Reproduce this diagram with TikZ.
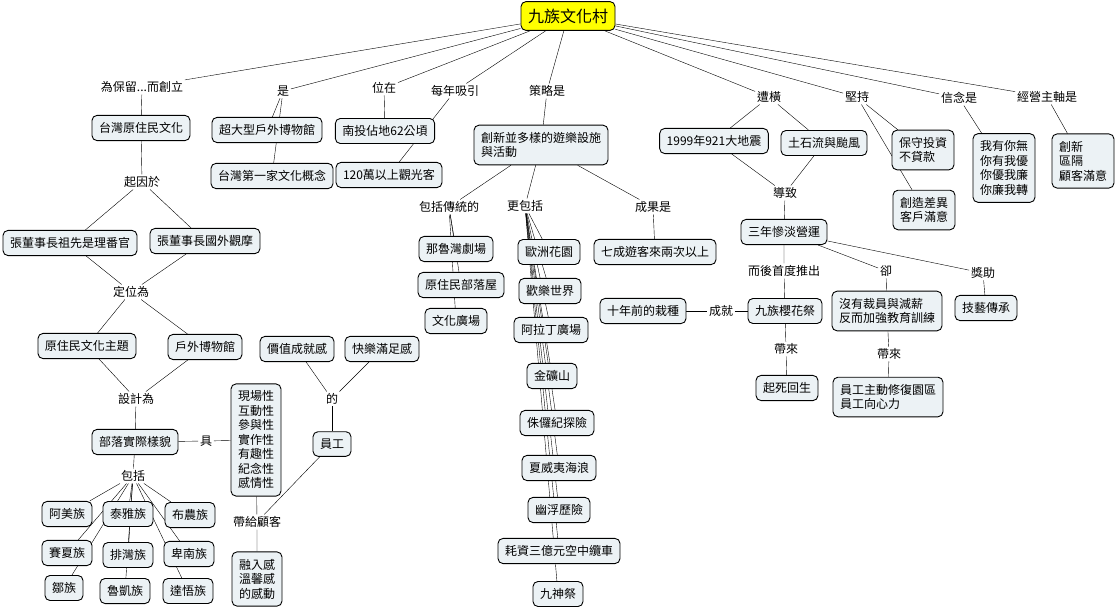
\documentclass[tikz,border=0pt]{standalone}
\usepackage{fontspec}
\setmainfont{Noto Sans CJK TC}
\usepackage{tikz}
\usetikzlibrary{backgrounds}

\definecolor{boxfill}{RGB}{236,242,245}
\definecolor{rootfill}{RGB}{255,255,0}

\tikzset{
  concept/.style={draw, line width=0.9pt, rounded corners=5pt, fill=boxfill,
    inner xsep=7pt, inner ysep=7pt, align=left,
    font=\fontsize{12}{14.5}\selectfont},
  phrase/.style={inner sep=1.5pt, font=\fontsize{12}{14.5}\selectfont},
  topic/.style={concept, fill=rootfill, font=\fontsize{16}{18}\selectfont}
}

\begin{document}
\begin{tikzpicture}[x=1pt, y=-1pt, line width=0.9pt]
  \useasboundingbox (0,0) rectangle (1117,610);
  % root
  \node (root) at (568,16) [topic] {九族文化村};
  % first row of phrases
  \node (preserve) at (142,87) [phrase] {為保留...而創立};
  \node (is) at (283,91) [phrase] {是};
  \node (located) at (384,88) [phrase] {位在};
  \node (attract) at (455,91) [phrase] {每年吸引};
  \node (strategy) at (547,91) [phrase] {策略是};
  \node (suffer) at (769,97) [phrase] {遭橫};
  \node (insist) at (857,97) [phrase] {堅持};
  \node (belief) at (959,98) [phrase] {信念是};
  \node (axis) at (1047,97) [phrase] {經營主軸是};
  % left branch
  \node (aborig) at (141,128) [concept] {台灣原住民文化};
  \node (cause) at (142,182) [phrase] {起因於};
  \node (ancestor) at (70,243) [concept] {張董事長祖先是理番官};
  \node (abroad) at (205,241) [concept] {張董事長國外觀摩};
  \node (position) at (131,292) [phrase] {定位為};
  \node (theme) at (87,346) [concept] {原住民文化主題};
  \node (outdoor) at (205,347) [concept] {戶外博物館};
  \node (design) at (136,399) [phrase] {設計為};
  \node (tribal) at (135,442) [concept] {部落實際樣貌};
  \node (have) at (206,441) [phrase] {具};
  \node (traits) at (256,440) [concept] {現場性\\互動性\\參與性\\實作性\\有趣性\\紀念性\\感情性};
  \node (bring) at (257,522) [phrase] {帶給顧客};
  \node (feel) at (257,579) [concept] {融入感\\溫馨感\\的感動};
  \node (value) at (297,349) [concept] {價值成就感};
  \node (joy) at (382,349) [concept] {快樂滿足感};
  \node (of) at (332,399) [phrase] {的};
  \node (staff) at (332,444) [concept] {員工};
  \node (incl) at (133,476) [phrase] {包括};
  \node (amis) at (67,514) [concept] {阿美族};
  \node (atayal) at (128,514) [concept] {泰雅族};
  \node (bunun) at (190,515) [concept] {布農族};
  \node (saisiyat) at (67,553) [concept] {賽夏族};
  \node (paiwan) at (128,555) [concept] {排灣族};
  \node (puyuma) at (189,554) [concept] {卑南族};
  \node (tsou) at (64,588) [concept] {鄒族};
  \node (rukai) at (125,591) [concept] {魯凱族};
  \node (tao) at (188,591) [concept] {達悟族};
  % museum and place
  \node (museum) at (267,130) [concept] {超大型戶外博物館};
  \node (first) at (272,176) [concept] {台灣第一家文化概念};
  \node (nantou) at (385,131) [concept] {南投佔地62公頃};
  \node (tourists) at (389,175) [concept] {120萬以上觀光客};
  % strategy branch
  \node (innov) at (541,145) [concept] {創新並多樣的遊樂設施\\與活動};
  \node (trad) at (449,207) [phrase] {包括傳統的};
  \node (more) at (525,206) [phrase] {更包括};
  \node (result) at (653,207) [phrase] {成果是};
  \node (naruwan) at (456,249) [concept] {那魯灣劇場};
  \node (house) at (461,285) [concept] {原住民部落屋};
  \node (plaza) at (456,321) [concept] {文化廣場};
  \node (garden) at (549,252) [concept] {歐洲花園};
  \node (fun) at (550,291) [concept] {歡樂世界};
  \node (aladdin) at (551,330) [concept] {阿拉丁廣場};
  \node (gold) at (552,376) [concept] {金礦山};
  \node (jurassic) at (557,423) [concept] {侏儸紀探險};
  \node (hawaii) at (559,468) [concept] {夏威夷海浪};
  \node (ufo) at (559,510) [concept] {幽浮歷險};
  \node (cable) at (559,551) [concept] {耗資三億元空中纜車};
  \node (ninegod) at (558,594) [concept] {九神祭};
  \node (repeat) at (655,252) [concept] {七成遊客來兩次以上};
  % disaster branch
  \node (quake) at (714,141) [concept] {1999年921大地震};
  \node (mud) at (824,143) [concept] {土石流與颱風};
  \node (lead) at (785,193) [phrase] {導致};
  \node (bleak) at (784,232) [concept] {三年慘淡營運};
  \node (then) at (784,271) [phrase] {而後首度推出};
  \node (yet) at (886,271) [phrase] {卻};
  \node (award) at (983,273) [phrase] {獎助};
  \node (craft) at (986,308) [concept] {技藝傳承};
  \node (sakura) at (785,311) [concept] {九族櫻花祭};
  \node (plant) at (643,311) [concept] {十年前的栽種};
  \node (achieve) at (721,311) [phrase] {成就};
  \node (nolay) at (887,311) [concept] {沒有裁員與減薪\\反而加強教育訓練};
  \node (bringa) at (786,349) [phrase] {帶來};
  \node (bringb) at (889,354) [phrase] {帶來};
  \node (revive) at (787,388) [concept] {起死回生};
  \node (repair) at (888,397) [concept] {員工主動修復園區\\員工向心力};
  % right branches
  \node (conserv) at (923,150) [concept] {保守投資\\不貸款};
  \node (differ) at (924,210) [concept] {創造差異\\客戶滿意};
  \node (share) at (1004,168) [concept] {我有你無\\你有我優\\你優我廉\\你廉我轉};
  \node (mainline) at (1083,161) [concept] {創新\\區隔\\顧客滿意};

  \begin{pgfonlayer}{background}
    % from the root
    \draw (root) -- (preserve);
    \draw (root) -- (is);
    \draw (root) -- (located);
    \draw (root) -- (attract);
    \draw (root) -- (strategy);
    \draw (root) -- (suffer);
    \draw (root) -- (insist);
    \draw (root) -- (belief);
    \draw (root) -- (axis);
    % left
    \draw (preserve) -- (aborig) -- (cause);
    \draw (cause) -- (ancestor) -- (position);
    \draw (cause) -- (abroad) -- (position);
    \draw (position) -- (theme) -- (design);
    \draw (position) -- (outdoor) -- (design);
    \draw (design) -- (tribal) -- (have) -- (traits) -- (bring) -- (feel);
    \draw (staff) -- (bring);
    \draw (value) -- (of);
    \draw (joy) -- (of);
    \draw (of) -- (staff);
    \draw (tribal) -- (incl);
    \draw (incl) -- (amis);
    \draw (incl) -- (atayal);
    \draw (incl) -- (bunun);
    \draw (incl) -- (saisiyat);
    \draw (incl) -- (paiwan);
    \draw (incl) -- (puyuma);
    \draw (incl) -- (tsou);
    \draw (incl) -- (rukai);
    \draw (incl) -- (tao);
    % museum and place
    \draw (is) -- (museum);
    \draw (is) -- (first);
    \draw (located) -- (nantou);
    \draw (attract) -- (tourists);
    % strategy
    \draw (strategy) -- (innov);
    \draw (innov) -- (trad);
    \draw (innov) -- (more);
    \draw (innov) -- (result) -- (repeat);
    \draw (trad) -- (naruwan);
    \draw (trad) -- (house);
    \draw (trad) -- (plaza);
    \draw (more) -- (garden);
    \draw (more) -- (fun);
    \draw (more) -- (aladdin);
    \draw (more) -- (gold);
    \draw (more) -- (jurassic);
    \draw (more) -- (hawaii);
    \draw (more) -- (ufo);
    \draw (more) -- (cable);
    \draw (more) -- (ninegod);
    % disasters
    \draw (suffer) -- (quake) -- (lead);
    \draw (suffer) -- (mud) -- (lead);
    \draw (lead) -- (bleak) -- (then) -- (sakura);
    \draw (plant) -- (achieve) -- (sakura);
    \draw (sakura) -- (bringa) -- (revive);
    \draw (bleak) -- (yet) -- (nolay) -- (bringb) -- (repair);
    \draw (bleak) -- (award) -- (craft);
    % right
    \draw (insist) -- (conserv);
    \draw (insist) -- (differ);
    \draw (belief) -- (share);
    \draw (axis) -- (mainline);
  \end{pgfonlayer}
\end{tikzpicture}
\end{document}
